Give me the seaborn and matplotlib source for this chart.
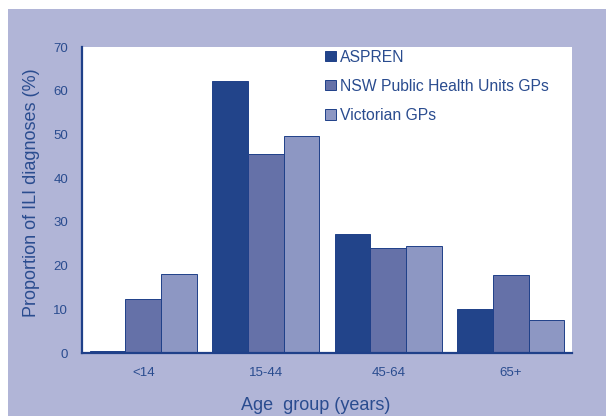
import matplotlib
matplotlib.use("Agg")
import matplotlib.pyplot as plt
import seaborn as sns
import pandas as pd
from matplotlib.patches import Rectangle

categories = ["<14", "15-44", "45-64", "65+"]
series_names = ["ASPREN", "NSW Public Health Units GPs", "Victorian GPs"]
aspren = [0.5, 62.2, 27.2, 10.0]
nsw = [12.3, 45.5, 24.0, 17.8]
vic = [18.0, 49.7, 24.5, 7.6]
colors = ["#22448a", "#6571a8", "#8d97c3"]

rows = []
for name, vals in zip(series_names, [aspren, nsw, vic]):
    for c, v in zip(categories, vals):
        rows.append({"Age": c, "Series": name, "Value": v})
df = pd.DataFrame(rows)

sns.set_style("white")
plt.rcParams["font.family"] = ["Liberation Sans", "DejaVu Sans"]

dark = "#1f4089"
txt = "#2a4c8f"
lav = "#b1b5d7"

fig = plt.figure(figsize=(6.06, 4.16), dpi=100)
fig.patch.set_facecolor("white")
fig.patches.append(Rectangle((8/606, 0), 1, 1 - 9/416, transform=fig.transFigure,
                             facecolor=lav, edgecolor="none", zorder=-10))
ax = fig.add_axes([82/606, 1 - 353/416, (572-82)/606, (353-47)/416])
ax.set_facecolor("white")

sns.barplot(data=df, x="Age", y="Value", hue="Series", order=categories,
            hue_order=series_names, palette=colors, width=0.875,
            edgecolor=dark, linewidth=0.7, ax=ax, saturation=1)

ax.set_ylim(0, 70)
ax.set_xlim(-0.5, 3.5)
ax.set_yticks(range(0, 71, 10))
ax.set_xticks([0, 1, 2, 3])
ax.set_xticklabels(categories)
ax.set_xticks([-0.5, 0.5, 1.5, 2.5, 3.5], minor=True)
ax.tick_params(axis="x", which="major", length=0, pad=10, labelsize=9.5, labelcolor=txt)
ax.tick_params(axis="x", which="minor", length=4, direction="out", color=dark, width=1.2)
ax.tick_params(axis="y", length=4, direction="out", color=dark, width=1.2,
               labelsize=9.5, labelcolor=txt, pad=6)
for s in ["top", "right"]:
    ax.spines[s].set_visible(False)
for s in ["left", "bottom"]:
    ax.spines[s].set_color(dark)
    ax.spines[s].set_linewidth(1.6)

ax.set_ylabel("Proportion of ILI diagnoses (%)", fontsize=13, color=txt)
ax.set_xlabel("Age  group (years)", fontsize=13, color=txt)
ax.yaxis.set_label_coords(-0.086, 0.524)
ax.xaxis.set_label_coords(0.476, -0.145)

leg = ax.legend(loc="upper left", bbox_to_anchor=(0.484, 1.012), frameon=False,
                fontsize=11.3, handlelength=0.65, handleheight=0.65, handletextpad=0.3,
                labelspacing=0.9, borderaxespad=0)
for t in leg.get_texts():
    t.set_color(txt)

fig.savefig("out.png", dpi=100, facecolor=fig.get_facecolor())
